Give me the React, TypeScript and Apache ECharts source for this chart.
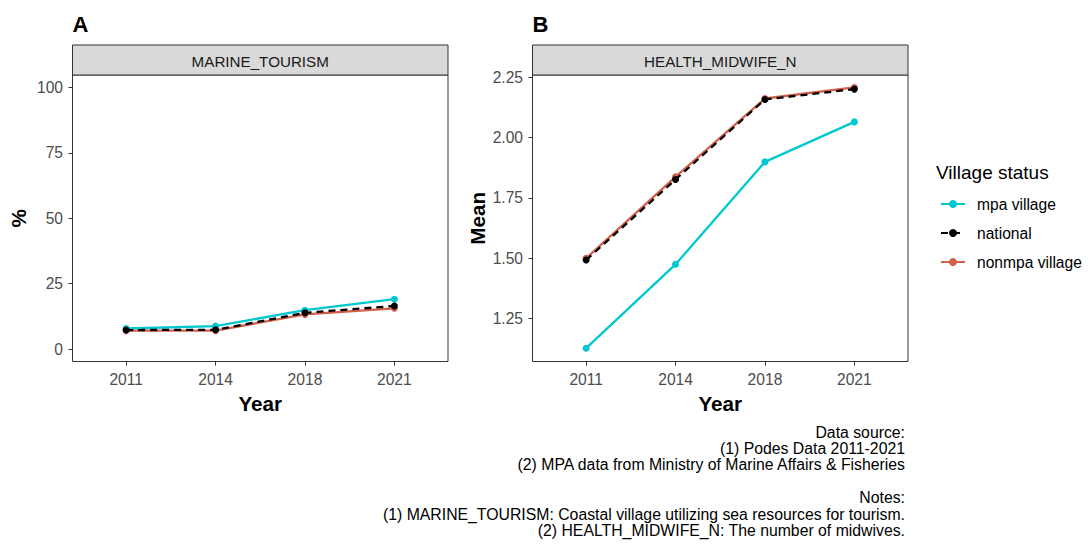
import React, { useEffect, useRef } from "react";
import * as echarts from "echarts";

// Survey years (discrete x positions 1..4)
const years = ["2011", "2014", "2018", "2021"];
const groups = ["mpa village", "national", "nonmpa village"];

// Panel A: MARINE_TOURISM (%)
const tourismMpa = [7.9, 8.8, 14.9, 19.1];
const tourismNational = [7.3, 7.4, 13.9, 16.5];
const tourismNonmpa = [7.1, 7.1, 13.3, 15.6];

// Panel B: HEALTH_MIDWIFE_N (mean)
const midwifeMpa = [1.126, 1.474, 1.899, 2.065];
const midwifeNational = [1.492, 1.826, 2.158, 2.201];
const midwifeNonmpa = [1.499, 1.837, 2.162, 2.208];

const tourismTicks = [0, 25, 50, 75, 100];
const midwifeTicks = [1.25, 1.5, 1.75, 2.0, 2.25];

const captionLines = [
  "Data source:",
  "(1) Podes Data 2011-2021",
  "(2) MPA data from Ministry of Marine Affairs & Fisheries",
  "",
  "Notes:",
  "(1) MARINE_TOURISM: Coastal village utilizing sea resources for tourism.",
  "(2) HEALTH_MIDWIFE_N: The number of midwives.",
];

const COLORS: Record<string, string> = {
  "mpa village": "#00C8D0",
  national: "#000000",
  "nonmpa village": "#D2604A",
};

const FONT = "'Liberation Sans', Arial, sans-serif";
const TICK_COLOR = "#4D4D4D";
const TEXT_SIZE = 15.6;

const toPoints = (vals: number[]) => vals.map((v, i) => [i + 1, v]);

export default function App() {
  const ref = useRef<HTMLDivElement>(null);

  useEffect(() => {
    if (!ref.current) return;
    const chart = echarts.init(ref.current, null, { renderer: "svg" });

    const panels = [
      { left: 72.5, title: "A", strip: "MARINE_TOURISM", yName: "%", yNameX: 18 },
      { left: 532.5, title: "B", strip: "HEALTH_MIDWIFE_N", yName: "Mean", yNameX: 477 },
    ];
    const plotTop = 75;
    const plotW = 375.5;
    const plotH = 286.5;

    const xAxisBase = (gridIndex: number) => ({
      type: "value" as const,
      gridIndex,
      min: 0.4,
      max: 4.6,
      axisLine: { show: false, onZero: false },
      splitLine: { show: false },
      axisTick: {
        show: true,
        length: 4,
        customValues: [1, 2, 3, 4],
        lineStyle: { color: "#333333", width: 1 },
      },
      axisLabel: {
        customValues: [1, 2, 3, 4],
        formatter: (v: number) => years[Math.round(v) - 1] ?? "",
        color: TICK_COLOR,
        fontFamily: FONT,
        fontSize: TEXT_SIZE,
        margin: 10,
      },
    });

    const yAxisBase = (gridIndex: number, min: number, max: number, ticks: number[], digits: number) => ({
      type: "value" as const,
      gridIndex,
      min,
      max,
      axisLine: { show: false, onZero: false },
      splitLine: { show: false },
      axisTick: {
        show: true,
        length: 4,
        customValues: ticks,
        lineStyle: { color: "#333333", width: 1 },
      },
      axisLabel: {
        customValues: ticks,
        formatter: (v: number) => v.toFixed(digits),
        color: TICK_COLOR,
        fontFamily: FONT,
        fontSize: TEXT_SIZE,
        margin: 9.5,
      },
    });

    const makeSeries = (name: string, vals: number[], idx: number) => ({
      type: "line" as const,
      name,
      xAxisIndex: idx,
      yAxisIndex: idx,
      data: toPoints(vals),
      symbol: "circle",
      symbolSize: 7,
      z: name === "national" ? 4 : 3,
      itemStyle: { color: COLORS[name] },
      lineStyle: {
        color: COLORS[name],
        width: 2.3,
        type: name === "national" ? [7, 5] : "solid",
      },
      emphasis: { disabled: true },
    });

    const graphics: any[] = [];
    panels.forEach((p) => {
      graphics.push({
        type: "text",
        left: p.left,
        top: 13,
        style: { text: p.title, font: `bold 22px ${FONT}`, fill: "#000" },
      });
      graphics.push({
        type: "rect",
        shape: { x: p.left, y: 45, width: plotW, height: plotTop - 45 },
        style: { fill: "#D9D9D9", stroke: "#333333", lineWidth: 1 },
        z: 1,
      });
      graphics.push({
        type: "text",
        x: p.left + plotW / 2,
        y: 61,
        style: {
          text: p.strip,
          font: `15.2px ${FONT}`,
          fill: "#1A1A1A",
          align: "center",
          verticalAlign: "middle",
        },
        z: 2,
      });
      graphics.push({
        type: "text",
        x: p.left + plotW / 2,
        y: 403,
        style: {
          text: "Year",
          font: `bold 20.7px ${FONT}`,
          fill: "#000",
          align: "center",
          verticalAlign: "middle",
        },
      });
      graphics.push({
        type: "text",
        x: p.yNameX,
        y: plotTop + plotH / 2,
        rotation: Math.PI / 2,
        style: {
          text: p.yName,
          font: `bold 20.7px ${FONT}`,
          fill: "#000",
          align: "center",
          verticalAlign: "middle",
        },
      });
    });

    graphics.push({
      type: "text",
      x: 936,
      y: 172,
      style: {
        text: "Village status",
        font: `19px ${FONT}`,
        fill: "#000",
        align: "left",
        verticalAlign: "middle",
      },
    });

    captionLines.forEach((line, i) => {
      if (!line) return;
      graphics.push({
        type: "text",
        x: 905,
        y: 432 + i * 16.4,
        style: {
          text: line,
          font: `15.8px ${FONT}`,
          fill: "#000",
          align: "right",
          verticalAlign: "middle",
        },
      });
    });

    chart.setOption({
      animation: false,
      backgroundColor: "#ffffff",
      grid: panels.map((p) => ({
        left: p.left,
        top: plotTop,
        width: plotW,
        height: plotH,
        show: true,
        borderColor: "#333333",
        borderWidth: 1,
        backgroundColor: "transparent",
        containLabel: false,
      })),
      xAxis: [xAxisBase(0), xAxisBase(1)],
      yAxis: [
        yAxisBase(0, -4.7, 104.7, tourismTicks, 0),
        yAxisBase(1, 1.0708, 2.2595, midwifeTicks, 2),
      ],
      legend: {
        orient: "vertical",
        left: 940,
        top: 196,
        padding: 0,
        data: groups,
        itemWidth: 24,
        itemHeight: 10,
        itemGap: 13,
        selectedMode: false,
        textStyle: { fontFamily: FONT, fontSize: TEXT_SIZE, color: "#000", padding: [0, 0, 0, 7] },
      },
      series: [
        makeSeries("mpa village", tourismMpa, 0),
        makeSeries("nonmpa village", tourismNonmpa, 0),
        makeSeries("national", tourismNational, 0),
        makeSeries("mpa village", midwifeMpa, 1),
        makeSeries("nonmpa village", midwifeNonmpa, 1),
        makeSeries("national", midwifeNational, 1),
      ],
      graphic: graphics,
    });

    return () => chart.dispose();
  }, []);

  return (
    <div
      ref={ref}
      style={{ position: "fixed", left: 0, top: 0, width: 1088, height: 545, background: "#fff" }}
    />
  );
}
